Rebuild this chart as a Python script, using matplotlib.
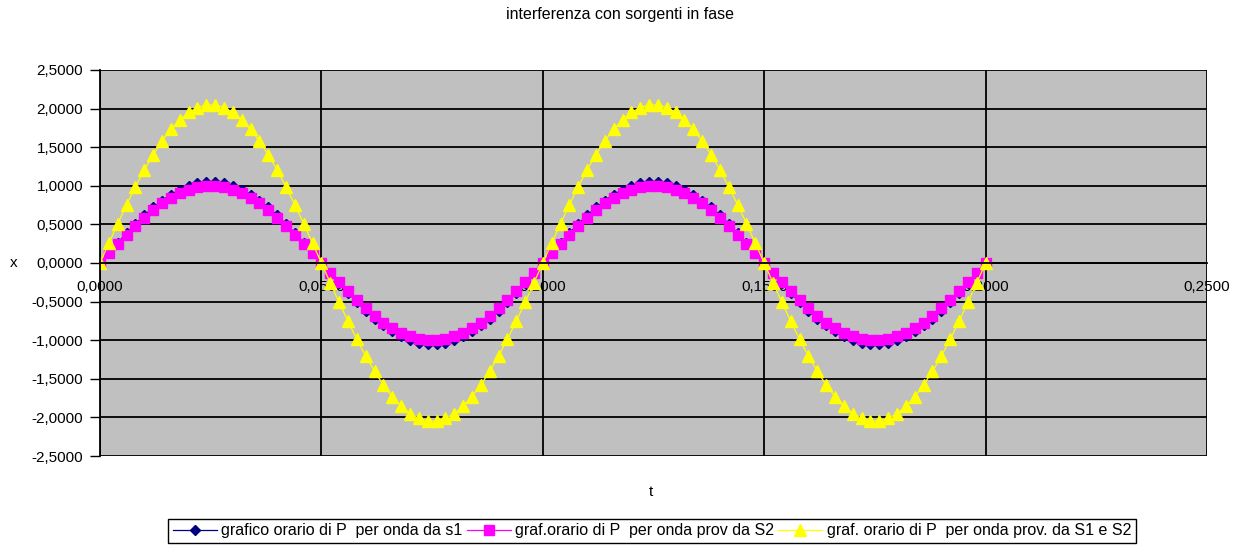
import matplotlib
matplotlib.use("Agg")
import matplotlib.pyplot as plt
from matplotlib.ticker import FuncFormatter, MultipleLocator

plt.rcParams["font.family"] = ["Liberation Sans", "DejaVu Sans"]

TITLE = "interferenza con sorgenti in fase"
LABELS = [
    "grafico orario di P  per onda da s1",
    "graf.orario di P  per onda prov da S2",
    "graf. orario di P  per onda prov. da S1 e S2",
]

t = [
    0.000, 0.002, 0.004, 0.006, 0.008, 0.010, 0.012, 0.014, 0.016, 0.018,
    0.020, 0.022, 0.024, 0.026, 0.028, 0.030, 0.032, 0.034, 0.036, 0.038,
    0.040, 0.042, 0.044, 0.046, 0.048, 0.050, 0.052, 0.054, 0.056, 0.058,
    0.060, 0.062, 0.064, 0.066, 0.068, 0.070, 0.072, 0.074, 0.076, 0.078,
    0.080, 0.082, 0.084, 0.086, 0.088, 0.090, 0.092, 0.094, 0.096, 0.098,
    0.100, 0.102, 0.104, 0.106, 0.108, 0.110, 0.112, 0.114, 0.116, 0.118,
    0.120, 0.122, 0.124, 0.126, 0.128, 0.130, 0.132, 0.134, 0.136, 0.138,
    0.140, 0.142, 0.144, 0.146, 0.148, 0.150, 0.152, 0.154, 0.156, 0.158,
    0.160, 0.162, 0.164, 0.166, 0.168, 0.170, 0.172, 0.174, 0.176, 0.178,
    0.180, 0.182, 0.184, 0.186, 0.188, 0.190, 0.192, 0.194, 0.196, 0.198,
    0.200,
]

# onda da S1
x_s1 = [
    0.000, 0.132, 0.261, 0.387, 0.506, 0.617, 0.719, 0.809, 0.887, 0.950,
    0.999, 1.031, 1.048, 1.048, 1.031, 0.999, 0.950, 0.887, 0.809, 0.719,
    0.617, 0.506, 0.387, 0.261, 0.132,
    0.000, -0.132, -0.261, -0.387, -0.506, -0.617, -0.719, -0.809, -0.887, -0.950,
    -0.999, -1.031, -1.048, -1.048, -1.031, -0.999, -0.950, -0.887, -0.809, -0.719,
    -0.617, -0.506, -0.387, -0.261, -0.132,
    0.000, 0.132, 0.261, 0.387, 0.506, 0.617, 0.719, 0.809, 0.887, 0.950,
    0.999, 1.031, 1.048, 1.048, 1.031, 0.999, 0.950, 0.887, 0.809, 0.719,
    0.617, 0.506, 0.387, 0.261, 0.132,
    0.000, -0.132, -0.261, -0.387, -0.506, -0.617, -0.719, -0.809, -0.887, -0.950,
    -0.999, -1.031, -1.048, -1.048, -1.031, -0.999, -0.950, -0.887, -0.809, -0.719,
    -0.617, -0.506, -0.387, -0.261, -0.132,
    0.000,
]

# onda da S2
x_s2 = [
    0.000, 0.125, 0.249, 0.368, 0.482, 0.588, 0.685, 0.771, 0.844, 0.905,
    0.951, 0.982, 0.998, 0.998, 0.982, 0.951, 0.905, 0.844, 0.771, 0.685,
    0.588, 0.482, 0.368, 0.249, 0.125,
    0.000, -0.125, -0.249, -0.368, -0.482, -0.588, -0.685, -0.771, -0.844, -0.905,
    -0.951, -0.982, -0.998, -0.998, -0.982, -0.951, -0.905, -0.844, -0.771, -0.685,
    -0.588, -0.482, -0.368, -0.249, -0.125,
    0.000, 0.125, 0.249, 0.368, 0.482, 0.588, 0.685, 0.771, 0.844, 0.905,
    0.951, 0.982, 0.998, 0.998, 0.982, 0.951, 0.905, 0.844, 0.771, 0.685,
    0.588, 0.482, 0.368, 0.249, 0.125,
    0.000, -0.125, -0.249, -0.368, -0.482, -0.588, -0.685, -0.771, -0.844, -0.905,
    -0.951, -0.982, -0.998, -0.998, -0.982, -0.951, -0.905, -0.844, -0.771, -0.685,
    -0.588, -0.482, -0.368, -0.249, -0.125,
    0.000,
]

# somma S1 + S2
x_sum = [
    0.000, 0.257, 0.510, 0.755, 0.988, 1.205, 1.403, 1.580, 1.731, 1.855,
    1.950, 2.014, 2.046, 2.046, 2.014, 1.950, 1.855, 1.731, 1.580, 1.403,
    1.205, 0.988, 0.755, 0.510, 0.257,
    0.000, -0.257, -0.510, -0.755, -0.988, -1.205, -1.403, -1.580, -1.731, -1.855,
    -1.950, -2.014, -2.046, -2.046, -2.014, -1.950, -1.855, -1.731, -1.580, -1.403,
    -1.205, -0.988, -0.755, -0.510, -0.257,
    0.000, 0.257, 0.510, 0.755, 0.988, 1.205, 1.403, 1.580, 1.731, 1.855,
    1.950, 2.014, 2.046, 2.046, 2.014, 1.950, 1.855, 1.731, 1.580, 1.403,
    1.205, 0.988, 0.755, 0.510, 0.257,
    0.000, -0.257, -0.510, -0.755, -0.988, -1.205, -1.403, -1.580, -1.731, -1.855,
    -1.950, -2.014, -2.046, -2.046, -2.014, -1.950, -1.855, -1.731, -1.580, -1.403,
    -1.205, -0.988, -0.755, -0.510, -0.257,
    0.000,
]

fig = plt.figure(figsize=(12.41, 5.45), dpi=100)
ax = fig.add_axes([100 / 1241, 89 / 545, 1107 / 1241, 386 / 545])
ax.set_facecolor("#C0C0C0")
ax.set_axisbelow(True)

ax.plot(t, x_s1, color="#000080", lw=0.9, marker="D", ms=5, mec="#000080", label=LABELS[0])
ax.plot(t, x_s2, color="#FF00FF", lw=0.9, marker="s", ms=7, mec="#FF00FF", label=LABELS[1])
ax.plot(t, x_sum, color="#FFFF00", lw=0.9, marker="^", ms=8, mec="#FFFF00", label=LABELS[2])

ax.set_xlim(0, 0.25)
ax.set_ylim(-2.5, 2.5)
ax.xaxis.set_major_locator(MultipleLocator(0.05))
ax.yaxis.set_major_locator(MultipleLocator(0.5))
fmt = FuncFormatter(lambda v, pos: f"{v:.4f}".replace(".", ",").replace("-0,0000", "0,0000"))
ax.xaxis.set_major_formatter(fmt)
ax.yaxis.set_major_formatter(fmt)

ax.grid(True, color="black", lw=1.3)
ax.xaxis.get_gridlines()[-1].set_visible(False)
ax.xaxis.get_gridlines()[0].set_visible(False)

for side in ("top", "right"):
    ax.spines[side].set_visible(False)
ax.spines["bottom"].set_position(("data", 0))
ax.spines["bottom"].set_linewidth(1.3)
ax.spines["left"].set_linewidth(1.3)

ax.tick_params(axis="x", length=0, pad=12, labelsize=11, colors="black")
ax.tick_params(axis="y", length=7, width=1, pad=5, labelsize=11, colors="black")

ax.set_xlabel("t", fontsize=11)
ax.xaxis.set_label_coords(0.4977, -0.075)
ax.set_ylabel("x", fontsize=11, rotation=0, va="center")
ax.yaxis.set_label_coords(-0.0777, 0.5)

fig.text(0.4996, 1 - 15 / 545, TITLE, ha="center", va="center", fontsize=11.5)

leg = fig.legend(
    loc="center",
    bbox_to_anchor=(652 / 1241, 1 - 531 / 545),
    ncol=3,
    fontsize=11.5,
    frameon=True,
    fancybox=False,
    edgecolor="black",
    framealpha=1,
    handlelength=2.75,
    handletextpad=0.3,
    columnspacing=0.25,
    borderpad=0.3,
)
leg.get_frame().set_linewidth(1.0)

fig.savefig("out.png", dpi=100)
